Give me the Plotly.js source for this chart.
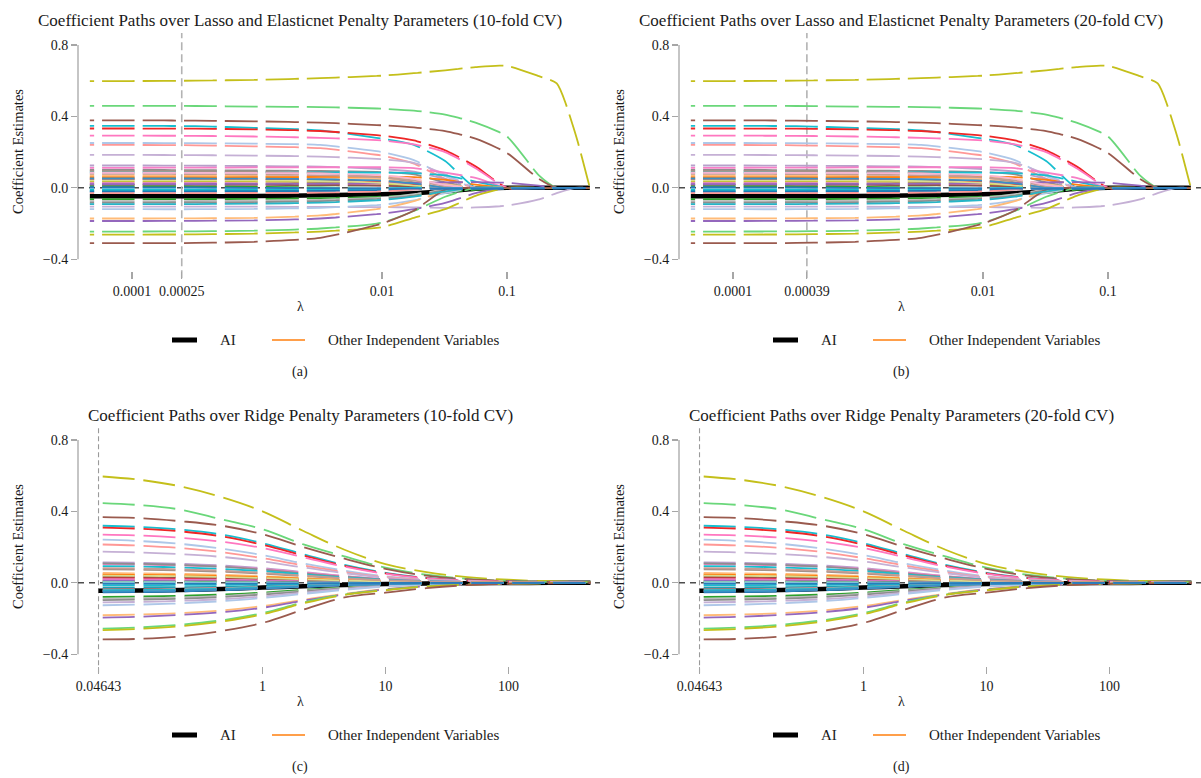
<!DOCTYPE html>
<html><head><meta charset="utf-8">
<script src="https://cdn.plot.ly/plotly-3.0.1.min.js"></script>
<style>html,body{margin:0;padding:0;background:#fff}#chart{width:1201px;height:778px}</style>
</head><body><div id="chart"></div>
<script>
// ---------------- DATA ----------------
const lambdaLasso = [4.6e-5, 1e-4, 3.2e-4, 1e-3, 3.2e-3, 0.01, 0.018, 0.032, 0.056, 0.1, 0.18, 0.25, 0.35, 0.46];
const lambdaRidge = [0.04643, 0.1, 0.2154, 0.4642, 1, 2.154, 4.642, 10, 21.54, 46.42, 100, 215.4, 464.2];

const aiLasso = [-0.047,-0.047,-0.047,-0.046,-0.042,-0.036,-0.03,-0.02,-0.006,0,0,0,0,0];
const aiRidge = [-0.045,-0.043,-0.04,-0.035,-0.027,-0.019,-0.012,-0.007,-0.004,-0.002,-0.001,0,0];

const otherColors = [
  '#c4bf1a','#6ad77a','#9a5a4e','#17becf','#ee2626','#ff77c0','#aec7e8','#ff9896','#c5b0d5',
  '#b89fcb','#f77fc6','#8e8e8e','#17becf','#a39289','#ffbb78','#ffc085','#ff7f0e','#e8282a',
  '#bcbd22','#e377c2','#8c564b','#9467bd','#2ca02c','#dbdb8d','#c49c94','#9edae5',
  '#21a0b5','#17becf','#1f77b4','#ff9896','#f7b6d2','#2ca02c','#bdbdbd','#8e8e8e','#c5b0d5','#aec7e8',
  '#ffbb78','#9467bd','#6ad77a','#c4bf1a','#9a5a4e','#26b5c6','#3b8fc4','#2b7bba'
];

const otherLasso = [
  [0.598,0.598,0.600,0.605,0.614,0.628,0.642,0.658,0.676,0.683,0.625,0.585,0.31,0],
  [0.459,0.459,0.458,0.455,0.452,0.443,0.432,0.41,0.365,0.287,0.07,0,0,0],
  [0.378,0.378,0.376,0.372,0.365,0.35,0.338,0.318,0.275,0.195,0.05,0,0,0],
  [0.347,0.347,0.345,0.335,0.322,0.275,0.24,0.15,0,0,0,0,0,0],
  [0.332,0.332,0.331,0.327,0.318,0.292,0.265,0.21,0.12,0,0,0,0,0],
  [0.292,0.292,0.291,0.287,0.28,0.265,0.243,0.2,0.11,0,0,0,0,0],
  [0.251,0.251,0.25,0.247,0.24,0.2,0.155,0.065,0,0,0,0,0,0],
  [0.24,0.24,0.238,0.232,0.222,0.18,0.135,0.05,0,0,0,0,0,0],
  [0.184,0.184,0.183,0.18,0.175,0.16,0.14,0.075,0,0,0,0,0,0],
  [0.125,0.125,0.124,0.122,0.118,0.105,0.09,0.05,0,0,0,0,0,0],
  [0.112,0.112,0.113,0.114,0.115,0.115,0.11,0.085,0.055,0,0,0,0,0],
  [0.1,0.1,0.099,0.097,0.094,0.088,0.075,0.03,0,0,0,0,0,0],
  [0.088,0.088,0.088,0.087,0.086,0.085,0.082,0.07,0.035,0,0,0,0,0],
  [0.095,0.095,0.094,0.09,0.082,0.06,0.03,0,0,0,0,0,0,0],
  [0.07,0.07,0.069,0.066,0.06,0.045,0.025,0,0,0,0,0,0,0],
  [0.062,0.062,0.061,0.06,0.057,0.052,0.045,0.02,0,0,0,0,0,0],
  [0.058,0.058,0.058,0.059,0.061,0.063,0.06,0.045,0.018,0,0,0,0,0],
  [0.049,0.049,0.049,0.048,0.045,0.035,0.02,0,0,0,0,0,0,0],
  [0.035,0.035,0.035,0.034,0.031,0.022,0.01,0,0,0,0,0,0,0],
  [0.026,0.026,0.026,0.025,0.022,0.012,0,0,0,0,0,0,0,0],
  [0.016,0.016,0.016,0.016,0.015,0.012,0.006,0,0,0,0,0,0,0],
  [0.02,0.02,0.021,0.022,0.024,0.026,0.028,0.03,0.032,0.028,0.012,0,0,0],
  [0.008,0.008,0.007,0.005,0.002,0,0,0,0,0,0,0,0,0],
  [0.042,0.042,0.042,0.041,0.038,0.028,0.012,0,0,0,0,0,0,0],
  [0.078,0.078,0.077,0.075,0.07,0.058,0.04,0.01,0,0,0,0,0,0],
  [-0.005,-0.005,-0.005,-0.004,-0.003,0,0,0,0,0,0,0,0,0],
  [-0.018,-0.018,-0.018,-0.017,-0.016,-0.012,-0.006,0,0,0,0,0,0,0],
  [-0.01,-0.01,-0.01,-0.009,-0.008,-0.005,0,0,0,0,0,0,0,0],
  [-0.022,-0.022,-0.021,-0.02,-0.018,-0.014,-0.008,0,0,0,0,0,0,0],
  [-0.03,-0.03,-0.03,-0.029,-0.027,-0.02,-0.01,0,0,0,0,0,0,0],
  [0.084,0.084,0.084,0.083,0.08,0.07,0.05,0.015,0,0,0,0,0,0],
  [-0.064,-0.064,-0.063,-0.062,-0.058,-0.05,-0.04,-0.025,-0.012,-0.004,0,0,0,0],
  [-0.075,-0.075,-0.074,-0.072,-0.068,-0.055,-0.035,-0.01,0,0,0,0,0,0],
  [-0.083,-0.083,-0.082,-0.08,-0.075,-0.06,-0.045,-0.015,0,0,0,0,0,0],
  [-0.105,-0.105,-0.105,-0.106,-0.107,-0.108,-0.11,-0.112,-0.11,-0.1,-0.065,-0.03,0,0],
  [-0.12,-0.12,-0.12,-0.118,-0.112,-0.095,-0.07,-0.03,0,0,0,0,0,0],
  [-0.172,-0.172,-0.171,-0.168,-0.155,-0.115,-0.075,-0.02,0,0,0,0,0,0],
  [-0.186,-0.186,-0.185,-0.182,-0.172,-0.145,-0.12,-0.085,-0.03,0,0,0,0,0],
  [-0.245,-0.245,-0.244,-0.24,-0.228,-0.195,-0.13,-0.05,0,0,0,0,0,0],
  [-0.262,-0.262,-0.261,-0.256,-0.245,-0.22,-0.168,-0.12,-0.045,0,0,0,0,0],
  [-0.31,-0.31,-0.309,-0.302,-0.28,-0.2,-0.128,-0.01,0,0,0,0,0,0],
  [-0.092,-0.092,-0.091,-0.089,-0.083,-0.068,-0.05,-0.02,0,0,0,0,0,0],
  [0.052,0.052,0.052,0.051,0.048,0.04,0.025,0,0,0,0,0,0,0],
  [0.003,0.003,0.002,0,-0.002,-0.004,-0.005,-0.006,-0.006,-0.006,-0.005,-0.004,-0.003,-0.002]
];

const otherRidge = [
  [0.597,0.577,0.54,0.48,0.40,0.29,0.185,0.105,0.06,0.032,0.017,0.009,0.004],
  [0.447,0.435,0.41,0.355,0.30,0.215,0.148,0.085,0.045,0.022,0.011,0.005,0.002],
  [0.368,0.362,0.345,0.32,0.272,0.2,0.135,0.078,0.04,0.02,0.01,0.005,0.002],
  [0.32,0.313,0.298,0.27,0.222,0.16,0.1,0.056,0.028,0.014,0.007,0.003,0.001],
  [0.31,0.303,0.288,0.26,0.213,0.153,0.095,0.053,0.026,0.013,0.006,0.003,0.001],
  [0.27,0.265,0.252,0.23,0.195,0.143,0.09,0.05,0.025,0.012,0.006,0.003,0.001],
  [0.242,0.234,0.218,0.192,0.155,0.108,0.068,0.036,0.018,0.009,0.004,0.002,0.001],
  [0.215,0.208,0.195,0.172,0.138,0.097,0.06,0.032,0.016,0.008,0.004,0.002,0.001],
  [0.175,0.17,0.16,0.145,0.12,0.086,0.054,0.029,0.014,0.007,0.003,0.002,0.001],
  [0.115,0.112,0.106,0.097,0.082,0.06,0.038,0.02,0.01,0.005,0.002,0.001,0],
  [0.105,0.102,0.097,0.09,0.077,0.057,0.037,0.02,0.01,0.005,0.002,0.001,0],
  [0.109,0.106,0.1,0.09,0.074,0.053,0.034,0.018,0.009,0.004,0.002,0.001,0],
  [0.094,0.091,0.086,0.078,0.065,0.047,0.03,0.016,0.008,0.004,0.002,0.001,0],
  [0.075,0.073,0.069,0.062,0.051,0.037,0.024,0.013,0.006,0.003,0.001,0.001,0],
  [0.055,0.053,0.05,0.045,0.037,0.027,0.017,0.009,0.004,0.002,0.001,0,0],
  [0.048,0.047,0.044,0.04,0.033,0.024,0.015,0.008,0.004,0.002,0.001,0,0],
  [0.045,0.044,0.042,0.038,0.032,0.024,0.015,0.008,0.004,0.002,0.001,0,0],
  [0.028,0.027,0.026,0.024,0.02,0.015,0.01,0.005,0.003,0.001,0.001,0,0],
  [0.015,0.015,0.014,0.013,0.011,0.008,0.005,0.003,0.001,0.001,0,0,0],
  [0.02,0.019,0.018,0.017,0.014,0.01,0.006,0.003,0.002,0.001,0,0,0],
  [0.035,0.034,0.032,0.029,0.024,0.018,0.011,0.006,0.003,0.001,0.001,0,0],
  [0.01,0.01,0.009,0.009,0.007,0.005,0.003,0.002,0.001,0,0,0,0],
  [0.005,0.005,0.005,0.004,0.003,0.002,0.001,0.001,0,0,0,0,0],
  [0.04,0.039,0.037,0.033,0.027,0.02,0.013,0.007,0.003,0.002,0.001,0,0],
  [0.082,0.08,0.075,0.068,0.056,0.041,0.026,0.014,0.007,0.003,0.002,0.001,0],
  [0.003,0.003,0.003,0.002,0.002,0.001,0.001,0,0,0,0,0,0],
  [-0.026,-0.025,-0.024,-0.022,-0.018,-0.013,-0.009,-0.005,-0.002,-0.001,-0.001,0,0],
  [-0.013,-0.013,-0.012,-0.011,-0.009,-0.007,-0.004,-0.002,-0.001,-0.001,0,0,0],
  [-0.054,-0.052,-0.048,-0.042,-0.033,-0.023,-0.015,-0.009,-0.005,-0.002,-0.001,0,0],
  [-0.038,-0.037,-0.034,-0.03,-0.023,-0.016,-0.01,-0.006,-0.003,-0.002,-0.001,0,0],
  [-0.046,-0.044,-0.041,-0.036,-0.028,-0.02,-0.013,-0.008,-0.004,-0.002,-0.001,0,0],
  [-0.079,-0.077,-0.073,-0.066,-0.055,-0.04,-0.026,-0.014,-0.007,-0.003,-0.002,-0.001,0],
  [-0.09,-0.087,-0.082,-0.074,-0.061,-0.044,-0.028,-0.015,-0.007,-0.004,-0.002,-0.001,0],
  [-0.097,-0.094,-0.089,-0.08,-0.066,-0.048,-0.031,-0.017,-0.008,-0.004,-0.002,-0.001,0],
  [-0.11,-0.107,-0.101,-0.092,-0.076,-0.055,-0.035,-0.019,-0.009,-0.005,-0.002,-0.001,0],
  [-0.126,-0.122,-0.115,-0.103,-0.085,-0.062,-0.04,-0.021,-0.01,-0.005,-0.002,-0.001,0],
  [-0.182,-0.178,-0.17,-0.155,-0.13,-0.095,-0.062,-0.035,-0.018,-0.009,-0.004,-0.002,-0.001],
  [-0.195,-0.19,-0.18,-0.165,-0.14,-0.1,-0.065,-0.037,-0.019,-0.009,-0.004,-0.002,-0.001],
  [-0.257,-0.25,-0.235,-0.21,-0.17,-0.11,-0.065,-0.04,-0.02,-0.01,-0.005,-0.002,-0.001],
  [-0.266,-0.258,-0.243,-0.217,-0.177,-0.115,-0.068,-0.042,-0.021,-0.01,-0.005,-0.002,-0.001],
  [-0.317,-0.314,-0.30,-0.27,-0.225,-0.15,-0.082,-0.055,-0.03,-0.013,-0.006,-0.003,-0.001],
  [-0.042,-0.04,-0.037,-0.033,-0.025,-0.018,-0.011,-0.007,-0.003,-0.002,-0.001,0,0],
  [-0.05,-0.048,-0.045,-0.039,-0.031,-0.022,-0.014,-0.008,-0.004,-0.002,-0.001,0,0],
  [-0.005,-0.005,-0.005,-0.005,-0.004,-0.003,-0.002,-0.001,-0.001,0,0,0,0]
];

const panelTitles = [
  'Coefficient Paths over Lasso and Elasticnet Penalty Parameters (10-fold CV)',
  'Coefficient Paths over Lasso and Elasticnet Penalty Parameters (20-fold CV)',
  'Coefficient Paths over Ridge Penalty Parameters (10-fold CV)',
  'Coefficient Paths over Ridge Penalty Parameters (20-fold CV)'
];
const captions = ['(a)','(b)','(c)','(d)'];
const cvLambda = [0.00025, 0.00039, 0.04643, 0.04643];
const xTickVals = [[1e-4,2.5e-4,1e-2,1e-1],[1e-4,3.9e-4,1e-2,1e-1],[0.04643,1,10,100],[0.04643,1,10,100]];
const xTickText = [['0.0001','0.00025','0.01','0.1'],['0.0001','0.00039','0.01','0.1'],['0.04643','1','10','100'],['0.04643','1','10','100']];
const yTickVals = [-0.4, 0, 0.4, 0.8];
const yTickText = ['\u22120.4','0.0','0.4','0.8'];
const legendLabels = ['AI','Other Independent Variables'];

// ---------------- LAYOUT HELPERS ----------------
const W = 1201, H = 778;
const fx = p => p / W;
const fy = p => 1 - p / H;
const offX = [0, 601, 0, 601];
const offY = [0, 0, 395, 395];
const FONT = '"Liberation Serif", "Times New Roman", Times, serif';

const traces = [];
const layout = {
  width: W, height: H, margin: {l:0, r:0, t:0, b:0},
  paper_bgcolor: '#ffffff', plot_bgcolor: 'rgba(0,0,0,0)',
  showlegend: false,
  font: {family: FONT, color: '#1a1a1a', size: 13.5},
  shapes: [], annotations: []
};

for (let p = 0; p < 4; p++) {
  const dx = offX[p], dy = offY[p];
  const isLasso = p < 2;
  const sfx = p === 0 ? '' : String(p + 1);
  const xa = 'x' + sfx, ya = 'y' + sfx;
  const lam = isLasso ? lambdaLasso : lambdaRidge;
  const ai = isLasso ? aiLasso : aiRidge;
  const others = isLasso ? otherLasso : otherRidge;
  const dash = isLasso ? '4px,8px,29px,0px' : '0px,4px,32px,5px';

  layout['xaxis' + sfx] = {
    domain: [fx(78 + dx), Math.min(1, fx(600 + dx))],
    anchor: ya, type: 'log',
    range: isLasso ? [-4.432, -0.256] : [-1.5, 2.744],
    tickmode: 'array', tickvals: xTickVals[p], ticktext: xTickText[p],
    ticks: 'outside', ticklen: 7, tickwidth: 1.2, tickcolor: '#a6a6a6',
    showline: false, showgrid: false, zeroline: false,
    tickfont: {family: FONT, size: 14, color: '#1a1a1a'}, fixedrange: true
  };
  layout['yaxis' + sfx] = {
    domain: [fy(271 + dy), fy(33 + dy)], anchor: xa,
    range: [-0.466, 0.867],
    tickmode: 'array', tickvals: yTickVals, ticktext: yTickText,
    ticks: 'outside', ticklen: 6, tickwidth: 1.2, tickcolor: '#a6a6a6',
    showline: false, showgrid: false, zeroline: false,
    tickfont: {family: FONT, size: 14, color: '#1a1a1a'}, fixedrange: true
  };

  // AI path (drawn first, beneath the others)
  traces.push({type:'scatter', mode:'lines', x: lam, y: ai, xaxis: xa, yaxis: ya,
    line: {color:'#000000', width: 4.5, shape: 'spline', smoothing: 0.6}, hoverinfo:'skip', name:'AI'});
  others.forEach((vals, i) => {
    traces.push({type:'scatter', mode:'lines', x: lam, y: vals, xaxis: xa, yaxis: ya,
      line: {color: otherColors[i], width: 1.8, dash: dash, shape: 'spline', smoothing: isLasso ? 0.6 : 1},
      hoverinfo:'skip', name:'Other Independent Variables'});
  });

  // shapes: y axis line, zero line, CV lambda line
  layout.shapes.push({type:'line', xref: xa + ' domain', yref: ya, x0:0, x1:0, y0:-0.4, y1:0.8,
    line:{color:'#a6a6a6', width:1.3}, layer:'below'});
  layout.shapes.push({type:'line', xref: xa + ' domain', yref: ya, x0:0, x1:1, y0:0, y1:0,
    line:{color:'#4d4d4d', width:1.4, dash:'6px,5px'}, layer:'below'});
  layout.shapes.push({type:'line', xref: xa, yref: ya + ' domain', x0: cvLambda[p], x1: cvLambda[p], y0:-0.03, y1:1,
    line: isLasso ? {color:'#b3b3b3', width:1.6, dash:'8px,4px'} : {color:'#9a9a9a', width:1.1, dash:'5px,3px'}, layer:'below'});

  // legend (manual)
  layout.shapes.push({type:'line', xref:'paper', yref:'paper', x0: fx(172+dx), x1: fx(197+dx), y0: fy(340+dy), y1: fy(340+dy),
    line:{color:'#000000', width:5}});
  layout.shapes.push({type:'line', xref:'paper', yref:'paper', x0: fx(272+dx), x1: fx(305+dx), y0: fy(340+dy), y1: fy(340+dy),
    line:{color:'#ff7f0e', width:1.5}});

  const ann = (text, x, y, opts) => layout.annotations.push(Object.assign({
    text, xref:'paper', yref:'paper', x: fx(x), y: fy(y), showarrow:false,
    xanchor:'center', yanchor:'middle', font:{family: FONT, size: 15, color:'#1a1a1a'}
  }, opts || {}));

  ann(panelTitles[p], 300 + dx, 20 + dy, {font:{family: FONT, size: 17, color:'#1a1a1a'}});
  ann('Coefficient Estimates', 18 + dx, 152 + dy, {textangle: -90, font:{family: FONT, size: 14.5, color:'#1a1a1a'}});
  ann('\u03bb', 300 + dx, 306 + dy, {font:{family: FONT, size: 14, color:'#1a1a1a'}});
  ann(legendLabels[0], 218 + dx, 340 + dy, {xanchor:'left'});
  ann(legendLabels[1], 326 + dx, 340 + dy, {xanchor:'left'});
  ann(captions[p], 300 + dx, 372 + dy, {font:{family: FONT, size: 14, color:'#1a1a1a'}});
}

Plotly.newPlot('chart', traces, layout, {displayModeBar:false, staticPlot:true});
</script>
</body></html>
